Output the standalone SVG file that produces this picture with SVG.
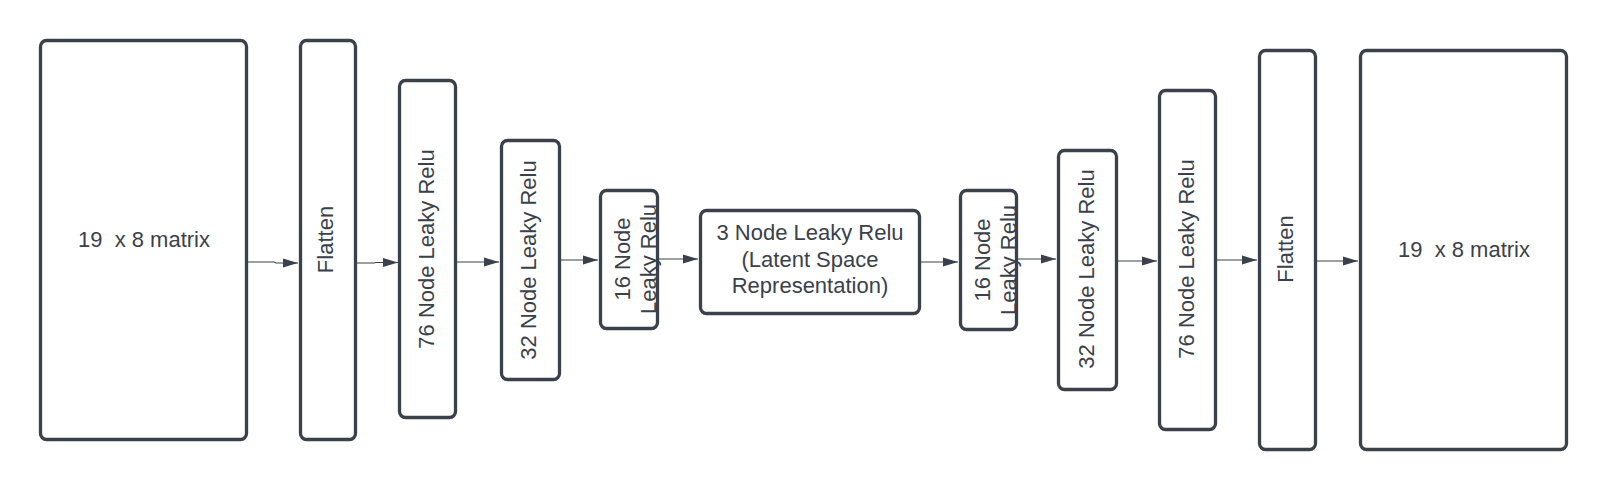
<svg xmlns="http://www.w3.org/2000/svg" width="1607" height="490" viewBox="0 0 1607 490">
<style>
.box{fill:#ffffff;stroke:#3a414a;stroke-width:3.3}
.lbl{font-family:"Liberation Sans",Arial,sans-serif;font-size:22px;fill:#3a414a;text-anchor:middle}
.conn{fill:none;stroke:#3a414a;stroke-width:1.1}
</style>
<defs>
<marker id="ah" markerUnits="userSpaceOnUse" markerWidth="15" markerHeight="10" refX="15" refY="5" orient="auto">
<path d="M0,0.5 L15,5 L0,9.5 z" fill="#3a414a"/>
</marker>
</defs>
<rect width="1607" height="490" fill="#ffffff"/>
<g id="connectors">
<path class="conn" d="M248,262 H274 L276,263 H298" marker-end="url(#ah)"/>
<path class="conn" d="M357,263 H374 L376,262.5 H398" marker-end="url(#ah)"/>
<path class="conn" d="M457,262 H499" marker-end="url(#ah)"/>
<path class="conn" d="M561,260 H598" marker-end="url(#ah)"/>
<path class="conn" d="M659,259 H698" marker-end="url(#ah)"/>
<path class="conn" d="M921,262 H958" marker-end="url(#ah)"/>
<path class="conn" d="M1018,259 H1056" marker-end="url(#ah)"/>
<path class="conn" d="M1118,261 H1157" marker-end="url(#ah)"/>
<path class="conn" d="M1217,260 H1257" marker-end="url(#ah)"/>
<path class="conn" d="M1317,261 H1358" marker-end="url(#ah)"/>
</g>
<g id="matrix-in">
<rect class="box" x="40.5" y="40.5" width="206" height="399" rx="6"/>
<text class="lbl" x="144" y="247" xml:space="preserve" style="white-space:pre">19  x 8 matrix</text>
</g>
<g id="flatten-in">
<rect class="box" x="300.5" y="40.5" width="55" height="399" rx="6"/>
<text class="lbl" transform="translate(333,239.5) rotate(-90)">Flatten</text>
</g>
<g id="enc76">
<rect class="box" x="399.5" y="80.5" width="56" height="337" rx="6"/>
<text class="lbl" transform="translate(434,249) rotate(-90)">76 Node Leaky Relu</text>
</g>
<g id="enc32">
<rect class="box" x="501.5" y="140.5" width="58" height="239" rx="6"/>
<text class="lbl" transform="translate(536,260) rotate(-90)">32 Node Leaky Relu</text>
</g>
<g id="enc16">
<rect class="box" x="600.5" y="190.5" width="57" height="138" rx="6"/>
<text class="lbl" transform="translate(630,259) rotate(-90)"><tspan x="0" dy="0">16 Node</tspan><tspan x="0" dy="26">Leaky Relu</tspan></text>
</g>
<g id="latent">
<rect class="box" x="700.5" y="210.5" width="219" height="103" rx="6"/>
<text class="lbl"><tspan x="810" y="240">3 Node Leaky Relu</tspan><tspan x="810" y="267">(Latent Space</tspan><tspan x="810" y="293">Representation)</tspan></text>
</g>
<g id="dec16">
<rect class="box" x="960.5" y="190.5" width="56" height="139" rx="6"/>
<text class="lbl" transform="translate(990,260) rotate(-90)"><tspan x="0" dy="0">16 Node</tspan><tspan x="0" dy="26">Leaky Relu</tspan></text>
</g>
<g id="dec32">
<rect class="box" x="1058.5" y="150.5" width="58" height="239" rx="6"/>
<text class="lbl" transform="translate(1094,269) rotate(-90)">32 Node Leaky Relu</text>
</g>
<g id="dec76">
<rect class="box" x="1159.5" y="90.5" width="56" height="339" rx="6"/>
<text class="lbl" transform="translate(1194,259) rotate(-90)">76 Node Leaky Relu</text>
</g>
<g id="flatten-out">
<rect class="box" x="1259.5" y="50.5" width="56" height="399" rx="6"/>
<text class="lbl" transform="translate(1293,249) rotate(-90)">Flatten</text>
</g>
<g id="matrix-out">
<rect class="box" x="1360.5" y="50.5" width="206" height="399" rx="6"/>
<text class="lbl" x="1464" y="257" xml:space="preserve" style="white-space:pre">19  x 8 matrix</text>
</g>
</svg>
